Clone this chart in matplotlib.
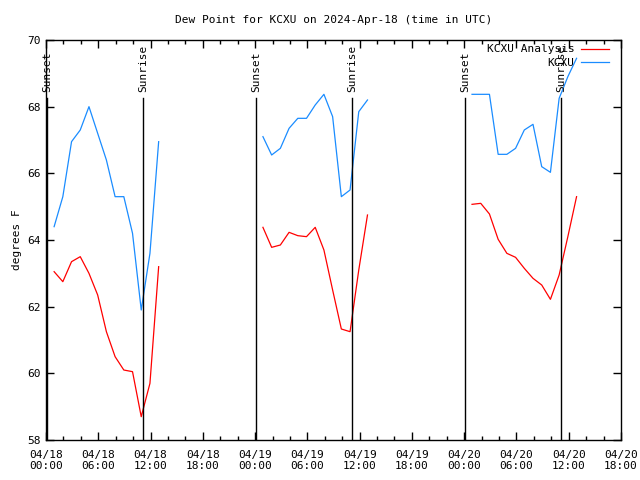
import datetime as dt
import matplotlib
matplotlib.use("Agg")
import matplotlib.pyplot as plt
import matplotlib.dates as mdates
from matplotlib.ticker import MultipleLocator

plt.rcParams['font.family'] = 'DejaVu Sans Mono'

start = dt.datetime(2024, 4, 18, 0, 0)

# observation hours (UTC, hours after 04/18 00:00) for each overnight stretch
obs_hours_1 = [0.93 + h for h in range(13)]
obs_hours_2 = [24.9 + h for h in range(13)]
obs_hours_3 = [48.9 + h for h in range(13)]

# KCXU observed dew point (F)
kcxu_1 = [64.4, 65.3, 66.95, 67.3, 68.0, 67.2, 66.4, 65.3, 65.3, 64.2, 61.9, 63.6, 66.95]
kcxu_2 = [67.1, 66.55, 66.75, 67.35, 67.65, 67.65, 68.05, 68.37, 67.7, 65.3, 65.5, 67.85, 68.2]
kcxu_3 = [68.37, 68.37, 68.37, 66.57, 66.57, 66.75, 67.3, 67.47, 66.2, 66.03, 68.25, 68.9, 69.45]

# KCXU analysis dew point (F)
anal_1 = [63.05, 62.75, 63.35, 63.5, 63.0, 62.35, 61.25, 60.5, 60.1, 60.05, 58.7, 59.7, 63.2]
anal_2 = [64.38, 63.78, 63.85, 64.23, 64.13, 64.1, 64.38, 63.7, 62.5, 61.33, 61.25, 63.1, 64.75]
anal_3 = [65.07, 65.1, 64.78, 64.02, 63.6, 63.48, 63.15, 62.85, 62.65, 62.22, 62.95, 64.1, 65.3]

# sunset / sunrise times (hours after start)
sunset_hours = [0.1, 24.1, 48.1]
sunrise_hours = [11.12, 35.12, 59.12]


def to_times(hours):
    return [start + dt.timedelta(hours=h) for h in hours]


fig = plt.figure(figsize=(6.4, 4.8), dpi=100)
ax = fig.add_axes([0.0719, 0.0833, 0.8984, 0.8334])

red = '#ff0000'
blue = '#1a8cff'

segments = [(obs_hours_1, anal_1, kcxu_1), (obs_hours_2, anal_2, kcxu_2), (obs_hours_3, anal_3, kcxu_3)]
for i, (hrs, an, ob) in enumerate(segments):
    t = to_times(hrs)
    ax.plot(t, an, color=red, lw=0.9, label='KCXU Analysis' if i == 0 else None)
    ax.plot(t, ob, color=blue, lw=0.9, label='KCXU' if i == 0 else None)

for h in sunset_hours:
    x = start + dt.timedelta(hours=h)
    ax.axvline(x, ymin=0, ymax=0.855, color='black', lw=1)
    ax.text(x, 68.45, 'Sunset', rotation=90, ha='center', va='bottom', fontsize=8)
for h in sunrise_hours:
    x = start + dt.timedelta(hours=h)
    ax.axvline(x, ymin=0, ymax=0.855, color='black', lw=1)
    ax.text(x, 68.45, 'Sunrise', rotation=90, ha='center', va='bottom', fontsize=8)

ax.set_xlim(start, start + dt.timedelta(hours=66))
ax.set_ylim(58, 70)
ax.xaxis.set_major_locator(mdates.HourLocator(byhour=[0, 6, 12, 18]))
ax.xaxis.set_minor_locator(mdates.HourLocator(byhour=range(0, 24, 2)))
ax.xaxis.set_major_formatter(mdates.DateFormatter('%m/%d\n%H:%M'))
ax.yaxis.set_major_locator(MultipleLocator(2))

ax.tick_params(which='both', direction='in', top=True, right=True, labelsize=8, width=1)
ax.tick_params(which='major', length=6)
ax.tick_params(which='minor', length=3)
ax.tick_params(axis='x', pad=7)
for s in ax.spines.values():
    s.set_linewidth(1)

ax.set_title('Dew Point for KCXU on 2024-Apr-18 (time in UTC)', fontsize=8, pad=12)
ax.set_ylabel('degrees F', fontsize=8)

ax.legend(loc='upper right', bbox_to_anchor=(0.987, 1.0), frameon=False, fontsize=8,
          markerfirst=False, handlelength=2.5, borderaxespad=0, labelspacing=0.3,
          handletextpad=0.6)

fig.savefig('out.png', dpi=100)
